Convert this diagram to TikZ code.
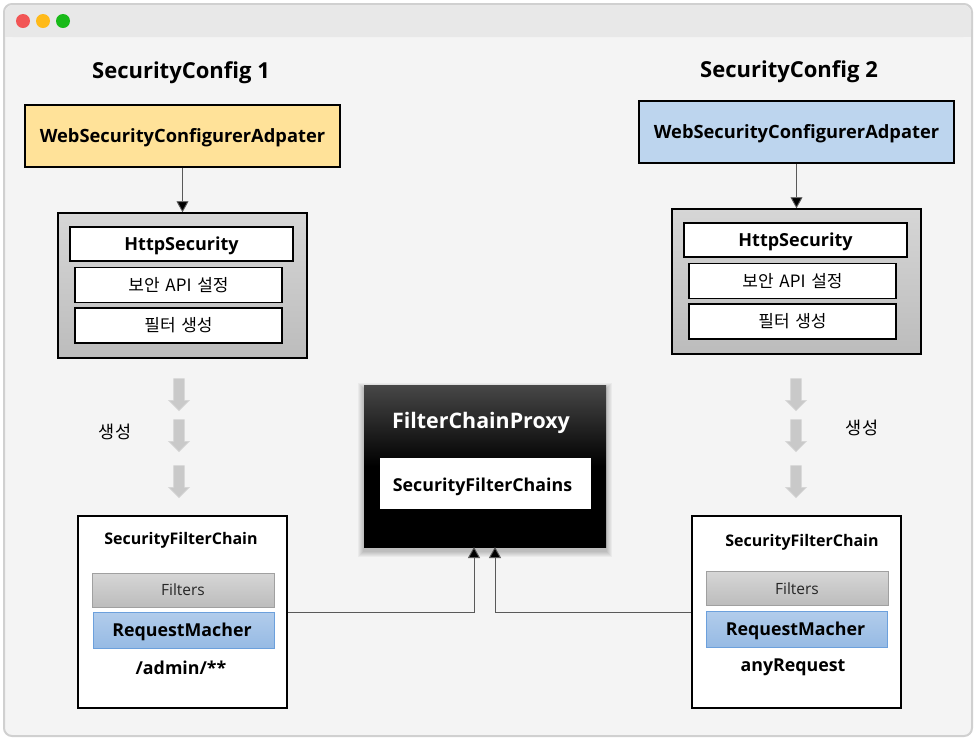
\documentclass[tikz,border=0pt]{standalone}
\usepackage{fontspec}
\setmainfont{Open Sans}
\newfontfamily\krfont[WordSpace=1.5]{Noto Sans CJK KR}
\definecolor{WindowBar}{RGB}{232,232,232}
\definecolor{WindowBody}{RGB}{244,244,244}
\definecolor{WindowEdge}{RGB}{208,208,208}
\definecolor{YellowBox}{RGB}{255,226,153}
\definecolor{BlueBox}{RGB}{189,213,238}
\definecolor{BlueTop}{RGB}{178,204,235}
\definecolor{BlueBottom}{RGB}{150,186,228}
\definecolor{BlueEdge}{RGB}{108,160,220}
\definecolor{GrayTop}{RGB}{214,214,214}
\definecolor{GrayBottom}{RGB}{188,188,188}
\usetikzlibrary{shapes.arrows, arrows.meta}
\newcommand{\lowtext}[2]{\raisebox{-#1}[0pt][0pt]{#2}}
\begin{document}
\begin{tikzpicture}[x=1pt, y=-1pt,
    plainbox/.style={draw=black, line width=1.5pt, rectangle, inner sep=0pt, align=center},
    adapter/.style={plainbox, minimum width=315pt, minimum height=62pt, font=\fontsize{18.3}{20}\selectfont\bfseries},
    httpouter/.style={plainbox, minimum width=249pt, minimum height=145pt, top color=GrayTop, bottom color=GrayBottom},
    httptitle/.style={plainbox, fill=white, minimum width=223pt, minimum height=34pt, font=\fontsize{18}{20}\selectfont\bfseries},
    httpitem/.style={plainbox, fill=white, minimum width=207pt, minimum height=35pt, font=\fontsize{17}{18}\krfont},
    chainbox/.style={plainbox, fill=white, minimum width=209pt, minimum height=192pt},
    filterbar/.style={rectangle, draw=GrayBottom!85!black, line width=0.8pt, inner sep=0pt, top color=GrayTop, bottom color=GrayBottom, minimum width=182pt, minimum height=34pt, font=\fontsize{15.5}{18}\selectfont, text=black!85},
    matcherbar/.style={rectangle, draw=BlueEdge, line width=0.8pt, inner sep=0pt, top color=BlueTop, bottom color=BlueBottom, minimum width=181pt, minimum height=36pt, font=\fontsize{17.8}{20}\selectfont\bfseries},
    chaintext/.style={inner sep=0pt, font=\fontsize{16}{18}\selectfont\bfseries},
    buildarrow/.style={single arrow, draw=black!16, line width=0.6pt, inner sep=5pt, fill=GrayBottom!80!white, shape border rotate=270, minimum height=32pt, single arrow head extend=5pt, single arrow tip angle=90},
    buildlabel/.style={inner sep=0pt, font=\fontsize{17.5}{18}\krfont},
    configtitle/.style={inner sep=0pt, font=\fontsize{22}{24}\selectfont\bfseries},
    connector/.style={draw=black!65, line width=0.9pt, -{Triangle[length=11pt,width=12pt,fill=black]}}]
  \useasboundingbox (0,0) rectangle (976,740);
  % window
  \fill[white] (0,0) rectangle (976,740);
  \draw[WindowEdge, line width=2pt, fill=WindowBody, rounded corners=8pt] (4,4) rectangle (972,736);
  \fill[WindowBar, rounded corners=8pt] (5,5) -- (971,5) -- (971,37) -- (5,37) -- cycle;
  \fill[WindowBar] (5,20) rectangle (971,37);
  \fill[red!65!white!95!black] (23,21) circle (7);
  \fill[orange!60!yellow!90!white] (43,21) circle (7);
  \fill[green!70!black!90!white] (63,21) circle (7);
  % left side
  \node[configtitle] (titleL) at (181,73) {SecurityConfig 1};
  \node[adapter, fill=YellowBox] (webL) at (182.5,136) {\lowtext{6pt}{WebSecurityConfigurerAdpater}};
  \node[httpouter] (httpL) at (182.5,285.5) {};
  \node[httptitle] (headL) at (181.5,244) {\lowtext{6pt}{HttpSecurity}};
  \node[httpitem] (apiL) at (178.5,285) {보안 API 설정};
  \node[httpitem] (makeL) at (178.5,325.5) {필터 생성};
  \node[buildarrow] (arrowLa) at (179,392) {};
  \node[buildarrow] (arrowLb) at (179,433) {};
  \node[buildarrow] (arrowLc) at (179,479) {};
  \node[buildlabel] (makeLabelL) at (115,432) {생성};
  \node[chainbox] (chainL) at (182.5,612) {};
  \node[chaintext] (chainTitleL) at (181,540) {SecurityFilterChain};
  \node[filterbar] (filtersL) at (183,590) {Filters};
  \node[matcherbar] (matchL) at (183.5,630) {\hspace*{-3pt}\lowtext{6pt}{RequestMacher}};
  \node[chaintext, font=\fontsize{17.8}{20}\selectfont\bfseries] (patternL) at (181,668) {/admin/**};
  % right side
  \node[configtitle] (titleR) at (789,72) {SecurityConfig 2};
  \node[adapter, fill=BlueBox] (webR) at (796.5,132) {\lowtext{6pt}{WebSecurityConfigurerAdpater}};
  \node[httpouter] (httpR) at (796.5,281.5) {};
  \node[httptitle] (headR) at (795.5,240) {\lowtext{6pt}{HttpSecurity}};
  \node[httpitem] (apiR) at (792.5,281) {보안 API 설정};
  \node[httpitem] (makeR) at (792.5,321.5) {필터 생성};
  \node[buildarrow] (arrowRa) at (796,392) {};
  \node[buildarrow] (arrowRb) at (796,433) {};
  \node[buildarrow] (arrowRc) at (796,479) {};
  \node[buildlabel] (makeLabelR) at (862,428) {생성};
  \node[chainbox] (chainR) at (796.5,612) {};
  \node[chaintext] (chainTitleR) at (802,542) {SecurityFilterChain};
  \node[filterbar] (filtersR) at (797,588.5) {Filters};
  \node[matcherbar] (matchR) at (797,629) {\hspace*{-3pt}\lowtext{6pt}{RequestMacher}};
  \node[chaintext, font=\fontsize{17.8}{20}\selectfont\bfseries] (patternR) at (793,667) {anyRequest};
  % proxy
  \foreach \s in {1,...,6}
    \fill[black, opacity=0.04] (364-\s,385+4-\s) rectangle (606+\s,547+4+\s);
  \node[rectangle, inner sep=0pt, minimum width=242pt, minimum height=162pt, top color=black!72, bottom color=black, middle color=black] (proxy) at (485,466) {};
  \node[inner sep=0pt, text=white, font=\fontsize{21.4}{24}\selectfont\bfseries] (proxyTitle) at (481,423) {FilterChainProxy};
  \node[rectangle, fill=white, inner sep=0pt, minimum width=211pt, minimum height=51pt, font=\fontsize{17.8}{20}\selectfont\bfseries] (chains) at (485.5,483.5) {\hspace*{-6pt}\lowtext{8pt}{SecurityFilterChains}};
  % connectors
  \coordinate (inL) at (474,547);
  \coordinate (inR) at (495,547);
  \draw[connector] (webL) -- (httpL);
  \draw[connector] (webR) -- (httpR);
  \draw[connector] (chainL) -| (inL);
  \draw[connector] (chainR) -| (inR);
\end{tikzpicture}
\end{document}
